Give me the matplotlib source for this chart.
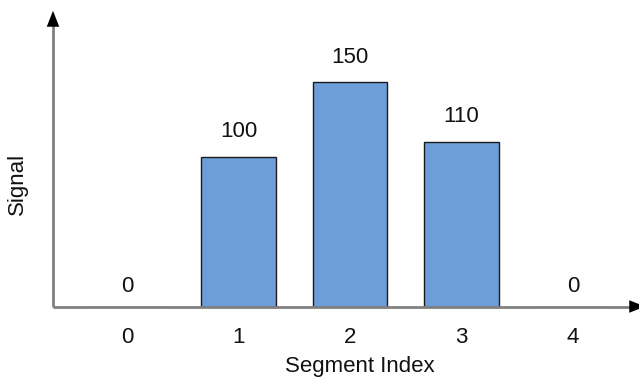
import matplotlib
matplotlib.use("Agg")
import matplotlib.pyplot as plt

plt.rcParams['font.family'] = ['Liberation Sans', 'DejaVu Sans']

segments = [0, 1, 2, 3, 4]
signal = [0, 100, 150, 110, 0]
tick_labels = ['0', '1', '2', '3', '4']

W, H = 639, 381
FS = 16
fig = plt.figure(figsize=(W / 100, H / 100), dpi=100)

# axes box in pixels: left 53, right 648 (arrow tip), top 8, baseline 306
left, right, top, base = 53, 648, 8, 306.5
ax = fig.add_axes([left / W, (H - base) / H, (right - left) / W, (base - top) / H])
ax.set_xlim(-0.664, -0.664 + (right - left) / 111.5)
ax.set_ylim(0, (base - top) / 1.497)

for sp in ax.spines.values():
    sp.set_visible(False)

ax.bar(segments, signal, width=0.67, color='#6d9eda', edgecolor='#1a1a1a',
       linewidth=1.0, zorder=2)

for x, v in zip(segments, signal):
    off = 14 if v > 0 else 10.8
    ax.annotate(str(v), xy=(x, v), xytext=(0, off), textcoords='offset points',
                ha='center', va='baseline', fontsize=FS, color='#111111')

# axis lines with arrowheads
ax.plot([0, 0], [0, 0.96], transform=ax.transAxes, color='#808080', lw=2,
        clip_on=False, zorder=3, solid_capstyle='butt')
ax.plot([0, 0.975], [0, 0], transform=ax.transAxes, color='#808080', lw=2,
        clip_on=False, zorder=3, solid_capstyle='butt')
ax.annotate('', xy=(0, 1), xycoords='axes fraction', xytext=(0, 0.9),
            arrowprops=dict(arrowstyle='-|>,head_length=1.15,head_width=0.45',
                            color='black', lw=0, mutation_scale=10), zorder=4)
ax.annotate('', xy=(1, 0), xycoords='axes fraction', xytext=(0.9, 0),
            arrowprops=dict(arrowstyle='-|>,head_length=1.15,head_width=0.45',
                            color='black', lw=0, mutation_scale=10), zorder=4)

ax.set_xticks(segments)
ax.set_xticklabels(tick_labels, fontsize=FS, color='#111111')
ax.tick_params(axis='x', length=0, pad=14.5)
ax.set_yticks([])

fig.text(360 / W, (H - 372) / H, 'Segment Index', ha='center', va='baseline',
         fontsize=FS, color='#111111')
fig.text(17 / W, (H - 184) / H, 'Signal', ha='center', va='center',
         rotation=90, fontsize=FS, color='#111111')

fig.savefig('out.png', dpi=100)
